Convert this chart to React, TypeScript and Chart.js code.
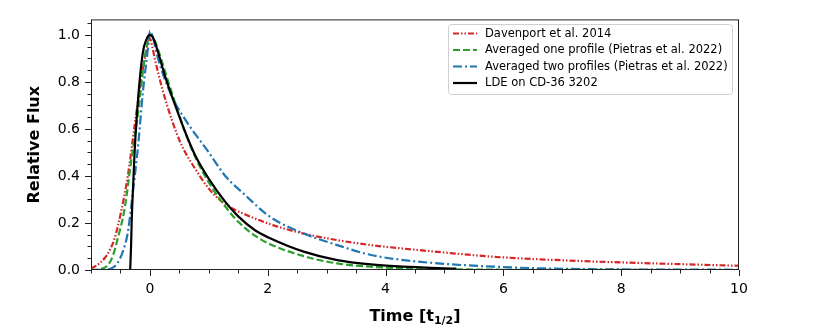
import React, { useEffect, useRef } from 'react';
import { Chart, registerables } from 'chart.js';

Chart.register(...registerables);

// ---- Data ----
const davenportX = [-1, -0.94, -0.85, -0.77, -0.68, -0.6, -0.49, -0.375, -0.26, -0.15, -0.07, 0, 0.04, 0.085, 0.2, 0.37, 0.54, 0.77, 1.0, 1.15, 1.33, 1.62, 2.1, 2.61, 3.18, 3.75, 4.43, 5.1, 5.85, 7.33, 8.57, 10];
const davenportY = [0.007, 0.014, 0.03, 0.05, 0.085, 0.134, 0.247, 0.40, 0.614, 0.81, 0.92, 0.985, 0.95, 0.897, 0.78, 0.64, 0.53, 0.43, 0.346, 0.306, 0.272, 0.236, 0.19, 0.155, 0.127, 0.106, 0.088, 0.072, 0.056, 0.038, 0.028, 0.018];

const oneProfileX = [-1, -0.83, -0.715, -0.63, -0.545, -0.43, -0.32, -0.2, -0.09, -0.03, 0.02, 0.1, 0.2, 0.3, 0.43, 0.6, 0.77, 1.0, 1.28, 1.5, 1.79, 2.04, 2.61, 3.18, 3.75, 4.6, 5.5, 7, 10];
const oneProfileY = [0.0, 0.005, 0.02, 0.06, 0.135, 0.26, 0.46, 0.67, 0.9, 0.975, 1.0, 0.965, 0.89, 0.81, 0.71, 0.585, 0.48, 0.372, 0.27, 0.205, 0.145, 0.11, 0.059, 0.028, 0.014, 0.006, 0.002, 0.0005, 0.0];

const twoProfilesX = [-1, -0.8, -0.63, -0.55, -0.46, -0.375, -0.29, -0.2, -0.12, -0.03, 0, 0.05, 0.14, 0.37, 0.6, 1.0, 1.28, 1.62, 2.04, 2.61, 3.18, 3.75, 4.5, 5.85, 7.33, 10];
const twoProfilesY = [0.0, 0.001, 0.01, 0.03, 0.078, 0.16, 0.33, 0.53, 0.755, 0.95, 1.017, 0.99, 0.897, 0.74, 0.64, 0.5, 0.4, 0.318, 0.226, 0.155, 0.106, 0.064, 0.037, 0.014, 0.004, 0.001];

const ldeX = [-0.335, -0.32, -0.31, -0.29, -0.26, -0.2, -0.12, -0.06, 0, 0.05, 0.14, 0.255, 0.43, 0.6, 0.77, 1.0, 1.28, 1.5, 1.79, 2.04, 2.61, 3.18, 3.75, 4.6, 5.2];
const ldeY = [0.0, 0.1, 0.2, 0.33, 0.5, 0.73, 0.925, 0.98, 1.0, 0.99, 0.925, 0.826, 0.7, 0.586, 0.487, 0.388, 0.29, 0.228, 0.168, 0.135, 0.078, 0.042, 0.024, 0.011, 0.006];

const seriesLabels = [
  'Davenport et al. 2014',
  'Averaged one profile (Pietras et al. 2022)',
  'Averaged two profiles (Pietras et al. 2022)',
  'LDE on CD-36 3202',
];

const xTickValues = [0, 2, 4, 6, 8, 10];
const yTickValues = [0, 0.2, 0.4, 0.6, 0.8, 1.0];
const xRange = [-1, 10];
const yRange = [0, 1.066];

const colors = ['#d62728', '#2ca02c', '#1f77b4', '#000000'];
const dashes = [[6, 2, 1.5, 2, 1.5, 2], [7, 3], [9, 3, 2, 3], []];

const FONT = '"DejaVu Sans", sans-serif';

function zip(xs: number[], ys: number[]) {
  return xs.map((x, i) => ({ x, y: ys[i] }));
}

const decorPlugin = {
  id: 'decor',
  afterDraw(chart: any) {
    const { ctx, chartArea: a, scales } = chart;
    const xs = scales.x;
    const ys = scales.y;
    ctx.save();
    // frame
    ctx.strokeStyle = '#222';
    ctx.lineWidth = 1;
    ctx.strokeRect(a.left + 0.5, a.top + 0.5, a.right - a.left - 1, a.bottom - a.top - 1);

    // ticks
    ctx.strokeStyle = '#222';
    ctx.lineWidth = 1;
    const major = 6;
    const minor = 3.5;
    ctx.beginPath();
    for (let k = 0; k <= 22; k++) {
      const v = xRange[0] + k * 0.5;
      const px = Math.round(xs.getPixelForValue(v)) + 0.5;
      const isMajor = xTickValues.includes(v);
      ctx.moveTo(px, a.bottom);
      ctx.lineTo(px, a.bottom + (isMajor ? major : minor));
    }
    for (let k = 0; k <= 21; k++) {
      const v = k * 0.05;
      const py = Math.round(ys.getPixelForValue(v)) + 0.5;
      const isMajor = k % 4 === 0;
      ctx.moveTo(a.left, py);
      ctx.lineTo(a.left - (isMajor ? major : minor), py);
    }
    ctx.stroke();

    // axis titles
    ctx.fillStyle = '#000';
    ctx.font = `bold 16px ${FONT}`;
    ctx.textBaseline = 'middle';
    ctx.save();
    ctx.translate(35, (a.top + a.bottom) / 2);
    ctx.rotate(-Math.PI / 2);
    ctx.textAlign = 'center';
    ctx.fillText('Relative Flux', 0, 0);
    ctx.restore();

    // x title with subscript
    const part1 = 'Time [t';
    const sub = '1/2';
    const part3 = ']';
    ctx.font = `bold 16px ${FONT}`;
    const w1 = ctx.measureText(part1).width;
    const w3 = ctx.measureText(part3).width;
    ctx.font = `bold 11px ${FONT}`;
    const w2 = ctx.measureText(sub).width;
    const total = w1 + w2 + w3;
    const cx = (a.left + a.right) / 2;
    const x0 = cx - total / 2;
    const yb = 321;
    ctx.textAlign = 'left';
    ctx.textBaseline = 'alphabetic';
    ctx.font = `bold 16px ${FONT}`;
    ctx.fillText(part1, x0, yb);
    ctx.font = `bold 11px ${FONT}`;
    ctx.fillText(sub, x0 + w1, yb + 3);
    ctx.font = `bold 16px ${FONT}`;
    ctx.fillText(part3, x0 + w1 + w2, yb);

    // legend
    const lx = 448.5, ly = 24.5, lw = 284, lh = 70;
    ctx.fillStyle = 'rgba(255,255,255,0.8)';
    ctx.strokeStyle = '#d0d0d0';
    ctx.lineWidth = 1;
    ctx.beginPath();
    const r = 3;
    ctx.moveTo(lx + r, ly);
    ctx.lineTo(lx + lw - r, ly);
    ctx.quadraticCurveTo(lx + lw, ly, lx + lw, ly + r);
    ctx.lineTo(lx + lw, ly + lh - r);
    ctx.quadraticCurveTo(lx + lw, ly + lh, lx + lw - r, ly + lh);
    ctx.lineTo(lx + r, ly + lh);
    ctx.quadraticCurveTo(lx, ly + lh, lx, ly + lh - r);
    ctx.lineTo(lx, ly + r);
    ctx.quadraticCurveTo(lx, ly, lx + r, ly);
    ctx.closePath();
    ctx.fill();
    ctx.stroke();

    const rowY = [33.5, 50, 66.5, 83];
    ctx.font = `11.5px ${FONT}`;
    ctx.textBaseline = 'middle';
    ctx.textAlign = 'left';
    for (let i = 0; i < 4; i++) {
      ctx.strokeStyle = colors[i];
      ctx.lineWidth = 2.2;
      ctx.setLineDash(dashes[i]);
      ctx.beginPath();
      ctx.moveTo(453, rowY[i]);
      ctx.lineTo(477, rowY[i]);
      ctx.stroke();
      ctx.setLineDash([]);
      ctx.fillStyle = '#000';
      ctx.fillText(seriesLabels[i], 485, rowY[i] + 0.5);
    }
    ctx.restore();
  },
};

export default function App() {
  const ref = useRef<HTMLCanvasElement | null>(null);
  useEffect(() => {
    if (!ref.current) return;
    const datasets = [
      { x: davenportX, y: davenportY },
      { x: oneProfileX, y: oneProfileY },
      { x: twoProfilesX, y: twoProfilesY },
      { x: ldeX, y: ldeY },
    ].map((s, i) => ({
      label: seriesLabels[i],
      data: zip(s.x, s.y),
      borderColor: colors[i],
      backgroundColor: colors[i],
      borderWidth: 2.2,
      borderDash: dashes[i],
      pointRadius: 0,
      cubicInterpolationMode: 'monotone' as const,
      fill: false,
      order: 3 - i,
    }));
    const chart = new Chart(ref.current, {
      type: 'line',
      data: { datasets },
      plugins: [decorPlugin],
      options: {
        responsive: false,
        animation: false,
        devicePixelRatio: 1,
        layout: { padding: { left: 0, top: 18, right: 91, bottom: 0 } },
        plugins: { legend: { display: false }, tooltip: { enabled: false } },
        scales: {
          x: {
            type: 'linear',
            min: xRange[0],
            max: xRange[1],
            grid: { display: false, drawTicks: false },
            border: { display: false },
            ticks: {
              color: '#000',
              font: { family: FONT, size: 14 },
              padding: 11,
              maxRotation: 0,
              callback: (v: any) => String(v),
            },
            afterBuildTicks: (s: any) => {
              s.ticks = xTickValues.map((v) => ({ value: v }));
            },
            afterFit: (s: any) => {
              s.height = 62;
            },
          },
          y: {
            type: 'linear',
            min: yRange[0],
            max: yRange[1],
            grid: { display: false, drawTicks: false },
            border: { display: false },
            ticks: {
              color: '#000',
              font: { family: FONT, size: 14 },
              padding: 11,
              callback: (v: any) => Number(v).toFixed(1),
            },
            afterBuildTicks: (s: any) => {
              s.ticks = yTickValues.map((v) => ({ value: v }));
            },
            afterFit: (s: any) => {
              s.width = 91;
            },
          },
        },
      },
    });
    return () => chart.destroy();
  }, []);
  return (
    <div style={{ position: 'fixed', left: 0, top: 0, width: 830, height: 332, background: '#fff' }}>
      <canvas ref={ref} width={830} height={332} style={{ width: 830, height: 332, display: 'block' }} />
    </div>
  );
}
